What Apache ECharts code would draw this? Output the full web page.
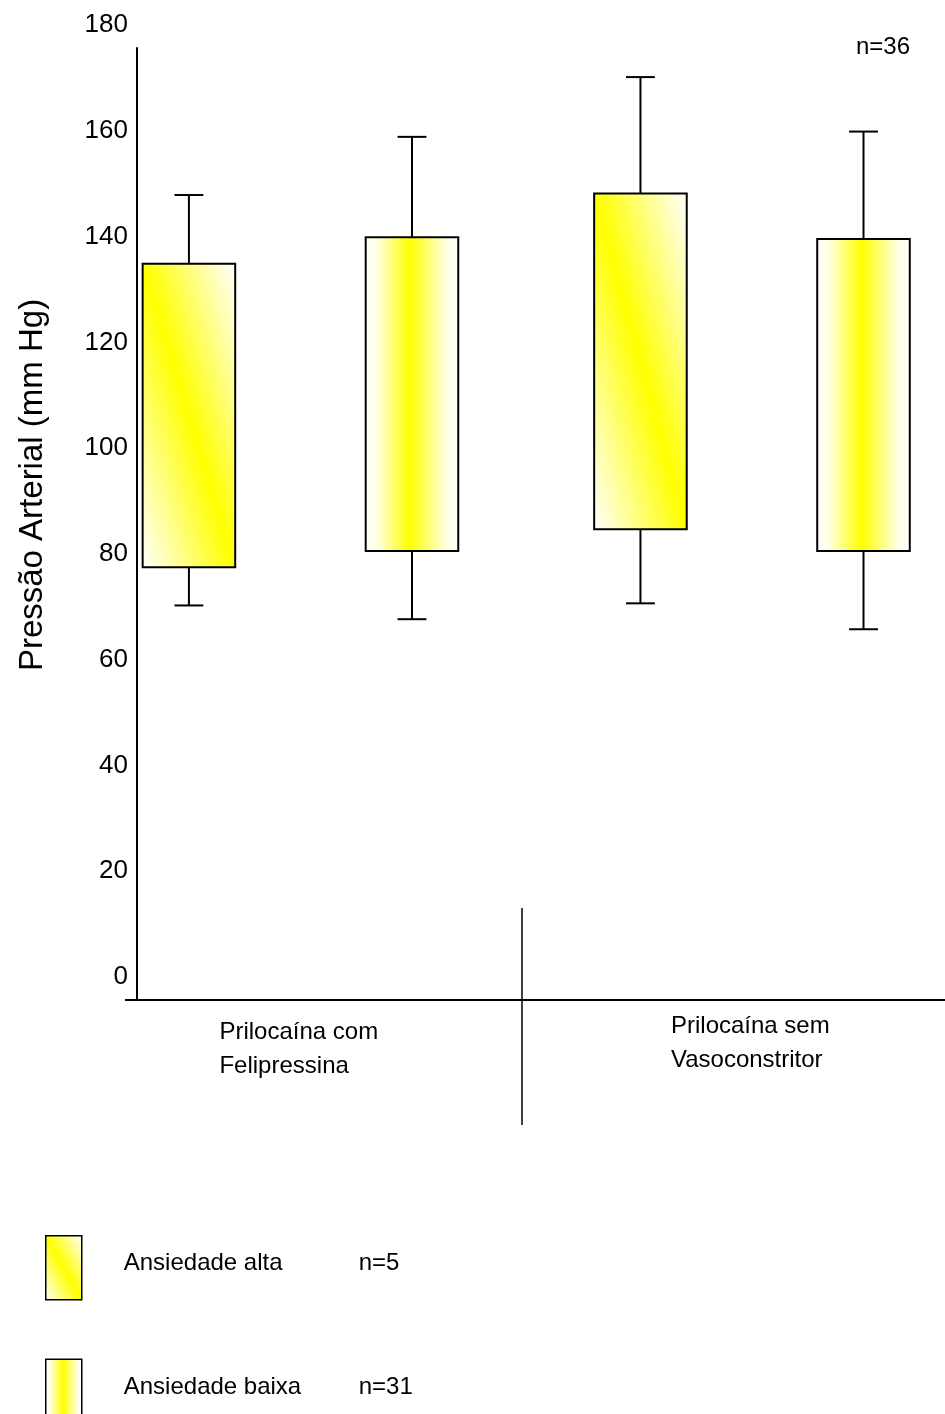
<!DOCTYPE html>
<html>
<head>
<meta charset="utf-8">
<script src="https://cdn.jsdelivr.net/npm/echarts@6.0.0/dist/echarts.min.js"></script>
<style>
html,body{margin:0;padding:0;background:#fff;}
#c{width:945px;height:1414px;}
</style>
</head>
<body>
<div id="c"></div>
<script>
// ---- data ----
const categories = ['Prilocaína com\nFelipressina', 'Prilocaína sem\nVasoconstritor'];
const seriesNames = ['Ansiedade alta', 'Ansiedade baixa'];
const seriesN = ['n=5', 'n=31'];
const totalN = 'n=36';
// [min, Q1, Q3, max] for each category
const altaValues = [
  [74.6, 81.8, 139.2, 152.2],
  [75.0, 89.0, 152.5, 174.5]
];
const baixaValues = [
  [72.0, 84.9, 144.2, 163.2],
  [70.1, 84.9, 143.9, 164.2]
];
const yMin = 0, yMax = 180, yStep = 20;

// ---- chart ----
const FONT = "'Liberation Sans', Arial, sans-serif";
const chart = echarts.init(document.getElementById('c'), null, {renderer: 'canvas'});

const xMin = -0.362, xMax = 1.4275;
const groupOffset = 0.247;
const separatorAt = 0.49;

function diagGradient(x0, y0, w, h, global) {
  const L = Math.sqrt(w * w + h * h);
  const ux = h / L, uy = -w / L;
  const half = w * h / L;
  const cx = x0 + w / 2, cy = y0 + h / 2;
  const stops = [
    {offset: 0, color: '#ffffff'},
    {offset: 0.5, color: '#ffff00'},
    {offset: 1, color: '#ffffff'}
  ];
  if (global) {
    return new echarts.graphic.LinearGradient(cx - half * ux, cy - half * uy, cx + half * ux, cy + half * uy, stops, true);
  }
  return new echarts.graphic.LinearGradient(
    0.5 - half * ux / w, 0.5 - half * uy / h, 0.5 + half * ux / w, 0.5 + half * uy / h, stops, false);
}
function horizGradient() {
  return new echarts.graphic.LinearGradient(0, 0, 1, 0, [
    {offset: 0, color: '#ffffff'},
    {offset: 0.12, color: '#ffffea'},
    {offset: 0.48, color: '#ffff00'},
    {offset: 0.88, color: '#ffffea'},
    {offset: 1, color: '#ffffff'}
  ]);
}

function makeRender(offset, kind) {
  return function (params, api) {
    const g = api.value(0) + offset;
    const pLow = api.coord([g, api.value(1)]);
    const pQ1 = api.coord([g, api.value(2)]);
    const pQ3 = api.coord([g, api.value(3)]);
    const pHigh = api.coord([g, api.value(4)]);
    const bw = api.size([0.205, 0])[0];
    const cw = api.size([0.064, 0])[0];
    const cx = pLow[0];
    const x0 = cx - bw / 2, y0 = pQ3[1], h = pQ1[1] - pQ3[1];
    const fill = kind === 'diag' ? diagGradient(x0, y0, bw, h, true) : horizGradient();
    const ls = {stroke: '#000', lineWidth: 2};
    return {
      type: 'group',
      children: [
        {type: 'line', shape: {x1: cx, y1: pHigh[1], x2: cx, y2: pQ3[1]}, style: ls},
        {type: 'line', shape: {x1: cx - cw / 2, y1: pHigh[1], x2: cx + cw / 2, y2: pHigh[1]}, style: ls},
        {type: 'line', shape: {x1: cx, y1: pQ1[1], x2: cx, y2: pLow[1]}, style: ls},
        {type: 'line', shape: {x1: cx - cw / 2, y1: pLow[1], x2: cx + cw / 2, y2: pLow[1]}, style: ls},
        {type: 'rect', shape: {x: x0, y: y0, width: bw, height: h}, style: {fill: fill, stroke: '#000', lineWidth: 2}}
      ]
    };
  };
}

const altaData = altaValues.map((v, i) => [i].concat(v));
const baixaData = baixaValues.map((v, i) => [i].concat(v));

const option = {
  backgroundColor: '#ffffff',
  animation: false,
  textStyle: {fontFamily: FONT, color: '#000'},
  title: {
    text: totalN, left: 851, top: 30,
    textStyle: {fontSize: 24, fontWeight: 'normal', color: '#000', fontFamily: FONT}
  },
  legend: {
    orient: 'vertical', left: 45, top: 1235, height: 300, padding: 0,
    itemWidth: 36, itemHeight: 64, itemGap: 58,
    selectedMode: false,
    data: [
      {name: seriesNames[0], icon: 'rect', itemStyle: {color: diagGradient(0, 0, 36, 64, false), borderColor: '#000', borderWidth: 1.5}},
      {name: seriesNames[1], icon: 'rect', itemStyle: {color: horizGradient(), borderColor: '#000', borderWidth: 1.5}}
    ],
    formatter: function (name) {
      const i = seriesNames.indexOf(name);
      return '{a|' + name + '}{b|' + seriesN[i] + '}';
    },
    textStyle: {
      fontSize: 24, color: '#000', fontFamily: FONT,
      rich: {
        a: {fontSize: 24, fontFamily: FONT, color: '#000', width: 235, padding: [0, 0, 8, 37]},
        b: {fontSize: 24, fontFamily: FONT, color: '#000', padding: [0, 0, 8, 0]}
      }
    }
  },
  grid: {left: 137, right: 0, top: 48, bottom: 414, containLabel: false},
  xAxis: [
    {
      type: 'value', min: xMin, max: xMax, position: 'bottom',
      axisLine: {show: true, onZero: false, lineStyle: {color: '#000', width: 2}},
      splitLine: {show: false},
      axisTick: {show: true, customValues: [separatorAt], length: 125, lineStyle: {color: '#000', width: 1.5}},
      axisLabel: {
        show: true, customValues: [0, 1], margin: 9,
        formatter: function (v) {
          const idx = Math.round(v);
          const parts = categories[idx].split('\n');
          if (idx === 0) return '{a|' + parts[0] + '}\n{b|' + parts[1] + '}';
          return '{c|' + parts[0] + '}\n{c|' + parts[1] + '}';
        },
        rich: {
          a: {fontSize: 24, fontFamily: FONT, color: '#000', lineHeight: 46, width: 162, align: 'left'},
          b: {fontSize: 24, fontFamily: FONT, color: '#000', lineHeight: 22, width: 162, align: 'left'},
          c: {fontSize: 24, fontFamily: FONT, color: '#000', lineHeight: 34, width: 162, align: 'left'}
        }
      }
    },
    {
      type: 'value', min: xMin, max: xMax, position: 'bottom',
      axisLine: {show: false, onZero: false},
      splitLine: {show: false},
      axisLabel: {show: false},
      axisTick: {show: true, inside: true, customValues: [separatorAt], length: 92, lineStyle: {color: '#000', width: 1.5}}
    }
  ],
  yAxis: {
    type: 'value', min: yMin, max: yMax, interval: yStep,
    name: 'Pressão Arterial (mm Hg)', nameLocation: 'middle', nameRotate: 90, nameGap: 88,
    nameTextStyle: {fontSize: 33, fontFamily: FONT, color: '#000', padding: [0, 0, 0, 78]},
    axisLine: {show: true, onZero: false, lineStyle: {color: '#000', width: 2}},
    splitLine: {show: false},
    axisTick: {show: true, customValues: [0], length: 12, lineStyle: {color: '#000', width: 2}},
    axisLabel: {
      fontSize: 26, fontFamily: FONT, color: '#000', margin: 9,
      verticalAlign: 'bottom', lineHeight: 46
    }
  },
  series: [
    {
      name: seriesNames[0], type: 'custom', xAxisIndex: 0,
      renderItem: makeRender(-groupOffset, 'diag'),
      encode: {x: 0, y: [1, 2, 3, 4]},
      data: altaData
    },
    {
      name: seriesNames[1], type: 'custom', xAxisIndex: 0,
      renderItem: makeRender(groupOffset, 'horiz'),
      encode: {x: 0, y: [1, 2, 3, 4]},
      data: baixaData
    }
  ]
};
chart.setOption(option);
</script>
</body>
</html>
